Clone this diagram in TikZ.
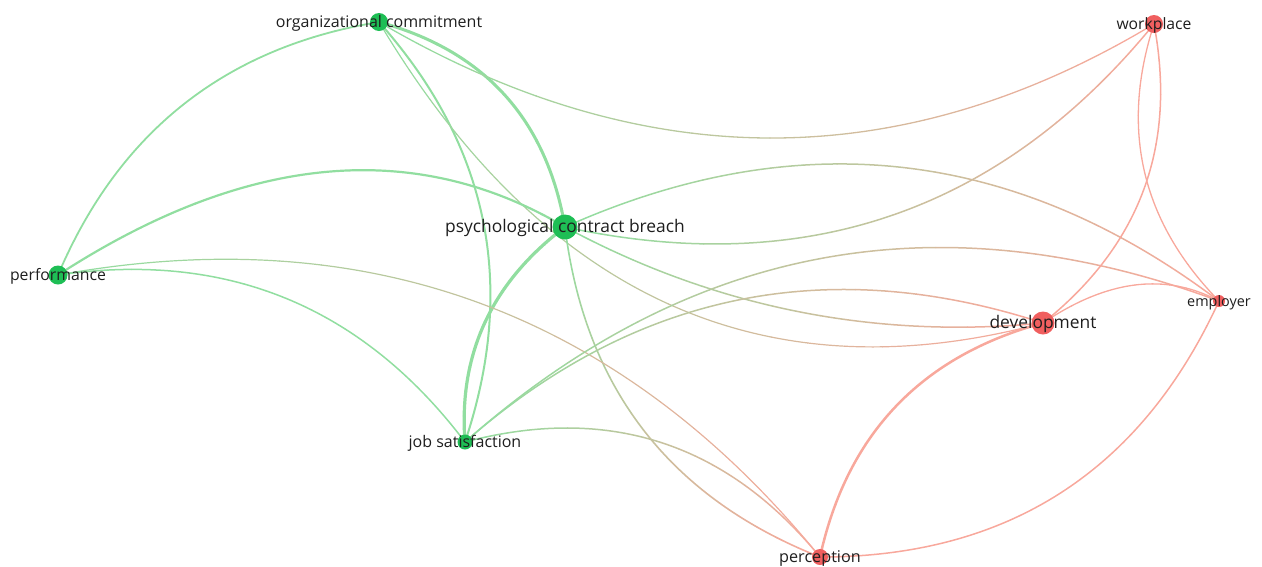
\documentclass[tikz,border=0pt]{standalone}
\usepackage{fontspec}
\setmainfont{Open Sans}
\usetikzlibrary{calc}
\definecolor{gnode}{RGB}{30,190,85}
\definecolor{rnode}{RGB}{240,95,95}
\definecolor{gedge}{RGB}{145,222,160}
\definecolor{redge}{RGB}{248,168,156}
\definecolor{txt}{RGB}{30,30,30}
\pgfdeclarelayer{bg}
\pgfsetlayers{bg,main}
% #1 start node, #2 end node, #3 quadratic control point, #4 start colour, #5 end colour, #6 width
\newcommand\vosedge[6]{%
  \coordinate (qq) at (#3);
  \coordinate (cc1) at ($(#1.center)!0.6667!(qq)$);
  \coordinate (cc2) at ($(#2.center)!0.6667!(qq)$);
  \foreach \k in {1,...,20}{%
    \pgfmathsetmacro\vta{(\k-1)/20}%
    \pgfmathsetmacro\vtb{\k/20}%
    \pgfmathtruncatemacro\vmx{100*(1-(\k-0.5)/20)}%
    \begin{pgfscope}
      \pgfsetlinewidth{#6}%
      \pgfsetroundcap
      \pgfsetstrokecolor{#4!\vmx!#5}%
      \pgfpathcurvebetweentime{\vta}{\vtb}{\pgfpointanchor{#1}{center}}{\pgfpointanchor{cc1}{center}}{\pgfpointanchor{cc2}{center}}{\pgfpointanchor{#2}{center}}%
      \pgfusepath{stroke}%
    \end{pgfscope}
  }%
}
\begin{document}
\begin{tikzpicture}[x=1pt,y=-1pt,
  vnode/.style={circle,inner sep=0pt,draw=none},
  gn/.style={vnode,fill=gnode},
  rn/.style={vnode,fill=rnode},
  lbl/.style={anchor=mid,text=txt,inner sep=0pt,yshift=-3pt}]
\useasboundingbox (0,0) rectangle (1262,566);
% nodes
\node[gn,minimum size=18pt] (oc) at (379,22) {};
\node[rn,minimum size=18pt] (wp) at (1154,24) {};
\node[gn,minimum size=25pt] (pcb) at (565,227) {};
\node[gn,minimum size=19pt] (perf) at (58,275) {};
\node[rn,minimum size=23pt] (dev) at (1043,323) {};
\node[rn,minimum size=12pt] (emp) at (1219,301) {};
\node[gn,minimum size=15pt] (js) at (465,442) {};
\node[rn,minimum size=16pt] (per) at (820,557) {};
% edges
\begin{pgfonlayer}{bg}
\vosedge{oc}{perf}{149.5,59.5}{gedge}{gedge}{1.8pt}
\vosedge{oc}{pcb}{537,65}{gedge}{gedge}{3pt}
\vosedge{oc}{js}{543.6,207}{gedge}{gedge}{2pt}
\vosedge{oc}{wp}{773.5,253}{gedge}{redge}{1.3pt}
\vosedge{oc}{dev}{625,435}{gedge}{redge}{1.2pt}
\vosedge{perf}{pcb}{338.5,93}{gedge}{gedge}{2.2pt}
\vosedge{pcb}{js}{455,310}{gedge}{gedge}{3.2pt}
\vosedge{pcb}{emp}{914,71}{gedge}{redge}{1.5pt}
\vosedge{pcb}{wp}{925,305}{gedge}{redge}{1.5pt}
\vosedge{pcb}{dev}{789.4,347.6}{gedge}{redge}{1.5pt}
\vosedge{pcb}{per}{594.5,468}{gedge}{redge}{1.6pt}
\vosedge{perf}{js}{310.7,238.3}{gedge}{gedge}{1.5pt}
\vosedge{perf}{per}{522,190.8}{gedge}{redge}{1.2pt}
\vosedge{js}{emp}{799.6,145.5}{gedge}{redge}{1.5pt}
\vosedge{js}{dev}{720,218}{gedge}{redge}{1.5pt}
\vosedge{js}{per}{679.5,385.5}{gedge}{redge}{1.5pt}
\vosedge{wp}{dev}{1188.5,207}{redge}{redge}{1.5pt}
\vosedge{wp}{emp}{1102.7,182}{redge}{redge}{1.3pt}
\vosedge{emp}{dev}{1139,258}{redge}{redge}{1.3pt}
\vosedge{emp}{per}{1101.5,557}{redge}{redge}{1.5pt}
\vosedge{dev}{per}{860.5,372.4}{redge}{redge}{2.5pt}
\end{pgfonlayer}
% labels
\node[lbl,font=\fontsize{16}{16}\selectfont] (oc-l) at (oc) {organizational commitment};
\node[lbl,font=\fontsize{15.7}{16}\selectfont] (wp-l) at (wp) {workplace};
\node[lbl,font=\fontsize{17.4}{17}\selectfont] (pcb-l) at (pcb) {psychological contract breach};
\node[lbl,font=\fontsize{15.8}{16}\selectfont] (perf-l) at (perf) {performance};
\node[lbl,font=\fontsize{17.4}{17}\selectfont] (dev-l) at (dev) {development};
\node[lbl,font=\fontsize{14.4}{14}\selectfont] (emp-l) at (emp) {employer};
\node[lbl,font=\fontsize{16}{16}\selectfont] (js-l) at (js) {job satisfaction};
\node[lbl,font=\fontsize{16.2}{16}\selectfont] (per-l) at (per) {perception};
\end{tikzpicture}
\end{document}
